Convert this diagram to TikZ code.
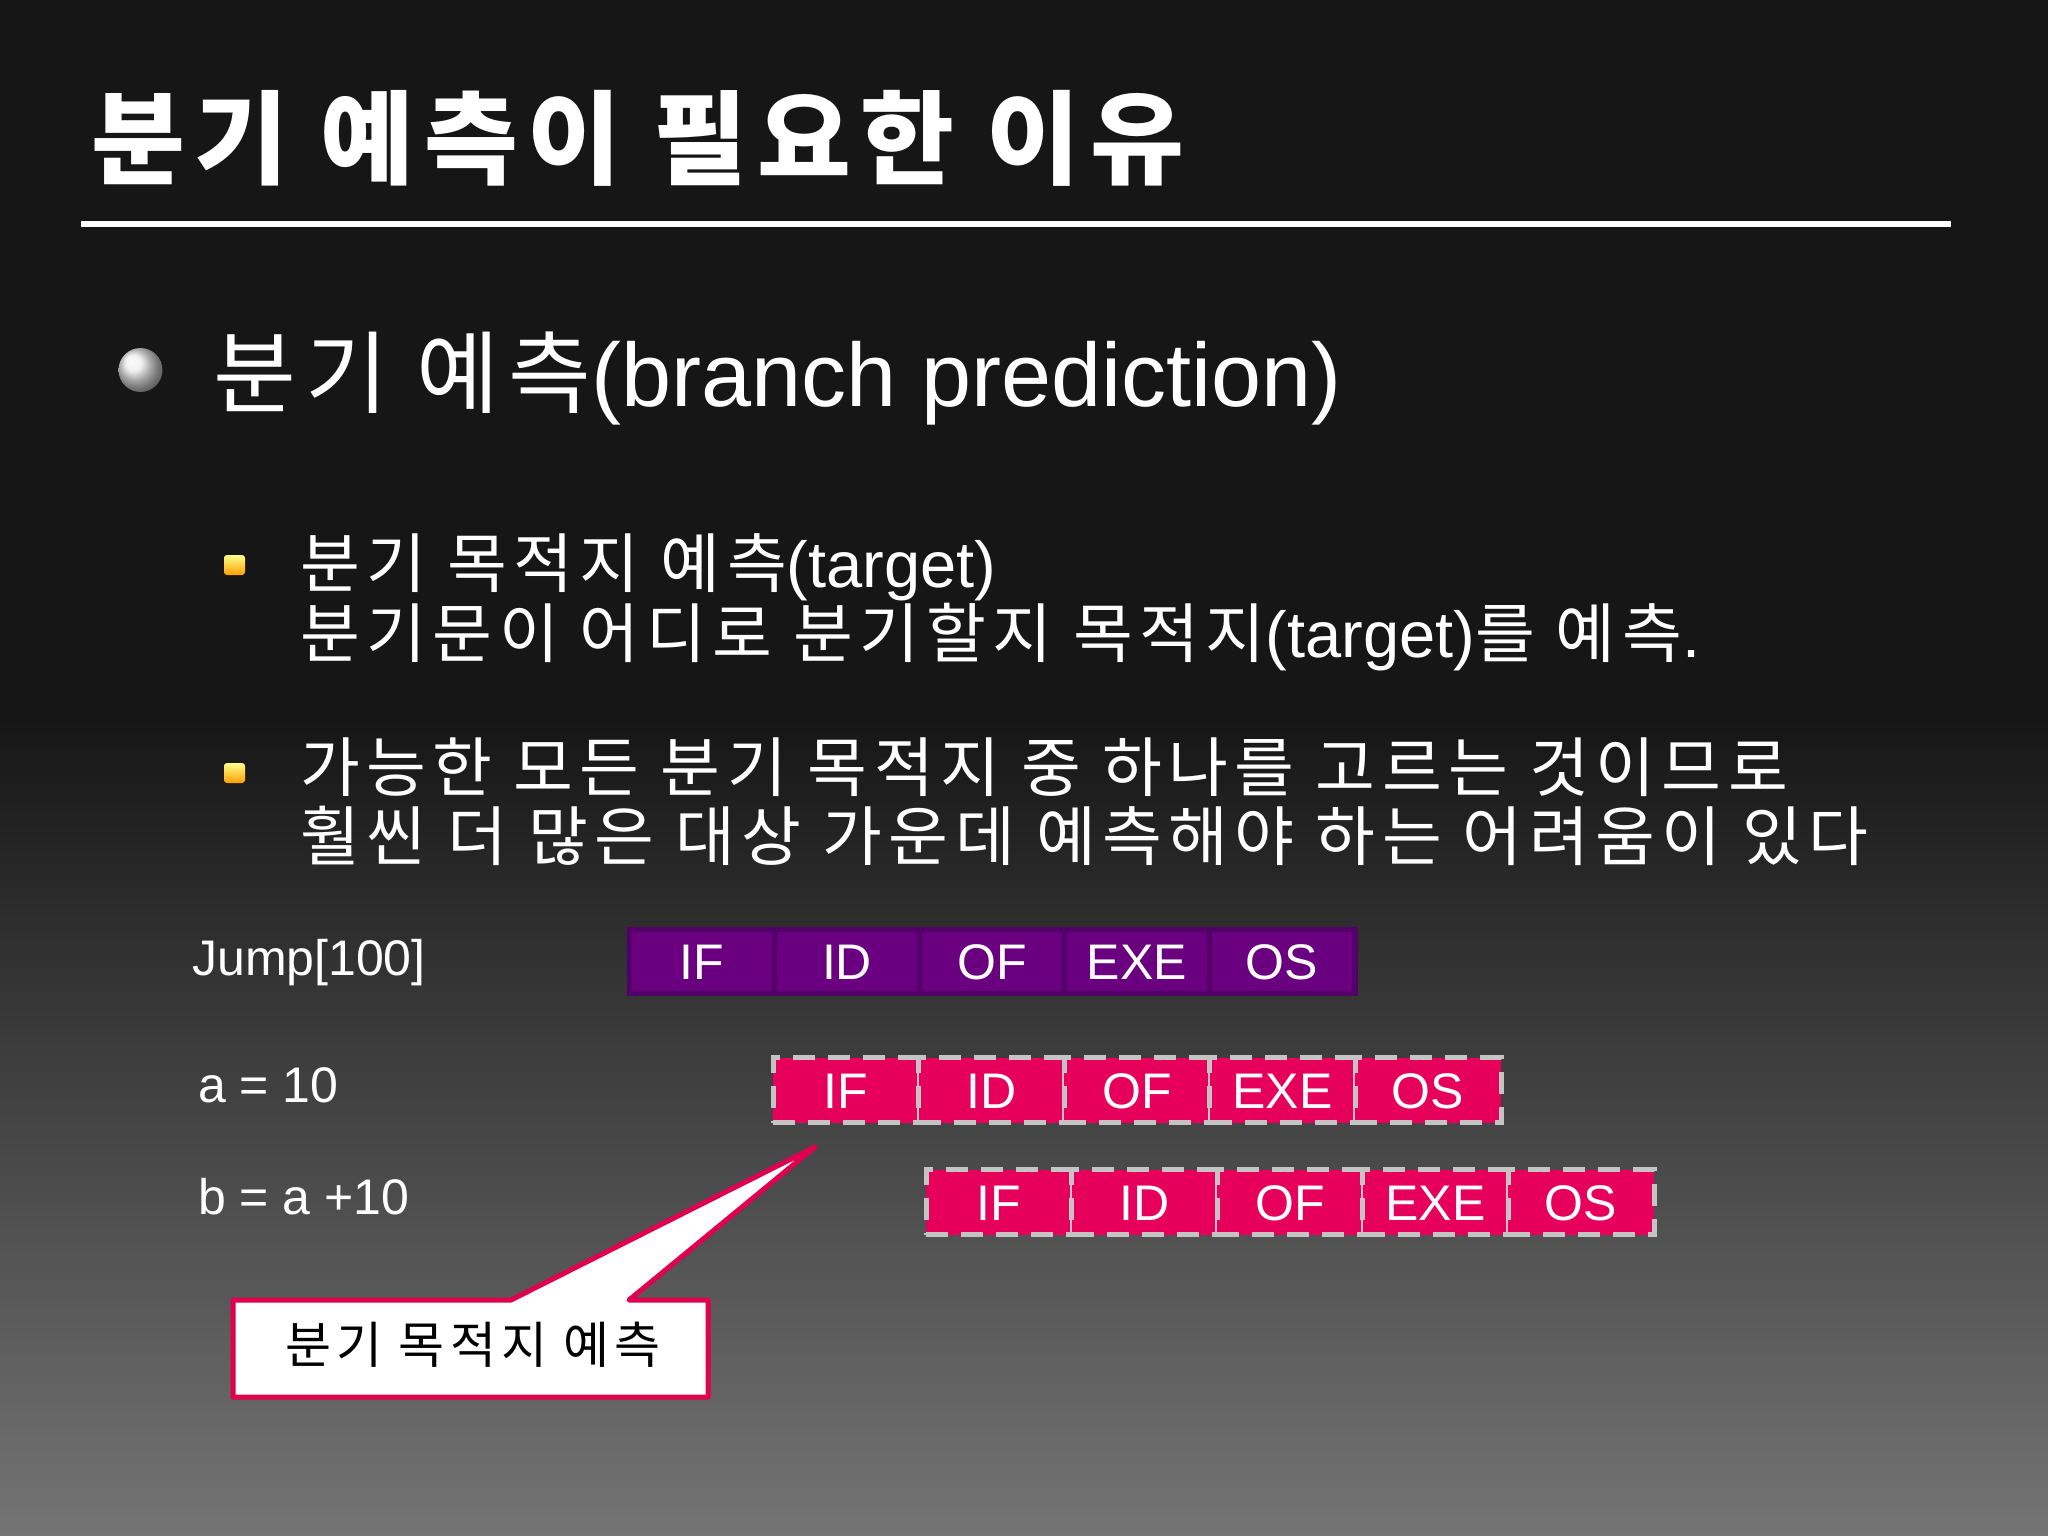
\documentclass[tikz,border=0pt]{standalone}
\usepackage{fontspec}
\setmainfont{Liberation Sans}
\newfontfamily\kr[LetterSpace=10]{Noto Sans CJK KR}
\newfontfamily\krtitle[LetterSpace=9.2]{Noto Sans CJK KR}
\definecolor{bgtop}{HTML}{161616}
\definecolor{bgbot}{HTML}{747474}
\definecolor{cellpurple}{HTML}{6A0080}
\definecolor{edgepurple}{HTML}{520068}
\definecolor{cellpink}{HTML}{E6005C}
\definecolor{dashgray}{HTML}{C4C4C4}
\definecolor{callpink}{HTML}{E0004E}
\tikzset{
  txt/.style={anchor=base west, inner sep=0pt, text=white},
  pcell/.style={fill=cellpurple, minimum width=140pt, minimum height=59pt, inner sep=0pt,
    text=white, font=\fontsize{50}{60}\selectfont, text height=36pt, text depth=0pt},
  kcell/.style={fill=cellpink, draw=dashgray, line width=5pt, dash pattern=on 22pt off 13pt,
    minimum width=146pt, minimum height=65pt, inner sep=0pt,
    text=white, font=\fontsize{50}{60}\selectfont, text height=36pt, text depth=0pt},
  subbul/.style={rounded corners=3pt, top color=yellow!45!white, bottom color=orange!75!yellow}
}
\begin{document}
\begin{tikzpicture}[x=1pt,y=-1pt]
\useasboundingbox (0,0) rectangle (2048,1536);
% background
\fill[bgtop] (0,0) rectangle (2048,720);
\shade[top color=bgtop, bottom color=bgbot] (0,719) rectangle (2048,1536);
% title
\node[txt, font=\krtitle\bfseries\fontsize{102}{110}\selectfont] (title) at (91,176) {분기 예측이 필요한 이유};
\coordinate (rl) at (81,224);
\coordinate (rr) at (1951,224);
\draw[white, line width=6pt] (rl) -- (rr);
% bullet 1
\shade[ball color=white!85!gray] (140.5,370) circle (22);
\node[txt, font=\fontsize{90}{100}\selectfont] (b1) at (213,406) {{\kr 분기 예측}(branch prediction)};
% sub bullets
\shade[subbul] (224,555) rectangle (245,575);
\node[txt, font=\fontsize{65}{70}\selectfont] (s1a) at (300,587) {{\kr 분기 목적지 예측}(target)};
\node[txt, font=\fontsize{65}{70}\selectfont] (s1b) at (300,657) {{\kr 분기문이 어디로 분기할지 목적지}(target){\kr 를 예측}.};
\shade[subbul] (224,763) rectangle (245,783);
\node[txt, font=\fontsize{65}{70}\selectfont] (s2a) at (300,791) {\kr 가능한 모든 분기 목적지 중 하나를 고르는 것이므로};
\node[txt, font=\fontsize{65}{70}\selectfont] (s2b) at (300,860) {\kr 훨씬 더 많은 대상 가운데 예측해야 하는 어려움이 있다};
% row labels
\node[txt, font=\fontsize{50}{60}\selectfont] (ljump) at (192,975) {Jump[100]};
\node[txt, font=\fontsize{50}{60}\selectfont] (la) at (198,1102) {a = 10};
\node[txt, font=\fontsize{50}{60}\selectfont] (lb) at (198,1214) {b = a +10};
% purple pipeline
\node[fill=edgepurple, minimum width=731pt, minimum height=69pt, inner sep=0pt] (jrow) at (992.5,961.5) {};
\node[pcell] (j1) at (702,961.5) {IF};
\node[pcell] (j2) at (847,961.5) {ID};
\node[pcell] (j3) at (992,961.5) {OF};
\node[pcell] (j4) at (1137,961.5) {EXE};
\node[pcell] (j5) at (1282,961.5) {OS};
% pink row a
\node[kcell] (a1) at (846,1090) {IF};
\node[kcell] (a2) at (991.5,1090) {ID};
\node[kcell] (a3) at (1137,1090) {OF};
\node[kcell] (a4) at (1282.5,1090) {EXE};
\node[kcell] (a5) at (1428,1090) {OS};
% pink row b
\node[kcell] (c1) at (999,1202) {IF};
\node[kcell] (c2) at (1144.5,1202) {ID};
\node[kcell] (c3) at (1290,1202) {OF};
\node[kcell] (c4) at (1435.5,1202) {EXE};
\node[kcell] (c5) at (1581,1202) {OS};
% callout
\coordinate (tip) at (815,1147);
\draw[fill=white, draw=callpink, line width=5pt, line join=round]
  (233,1300) -- (511,1300) -- (tip) -- (629,1300) -- (708,1300) -- (708,1397) -- (233,1397) -- cycle;
\node[inner sep=0pt, text=black, font=\kr\fontsize{50}{60}\selectfont] (callout) at (473,1345) {분기 목적지 예측};
\end{tikzpicture}
\end{document}
